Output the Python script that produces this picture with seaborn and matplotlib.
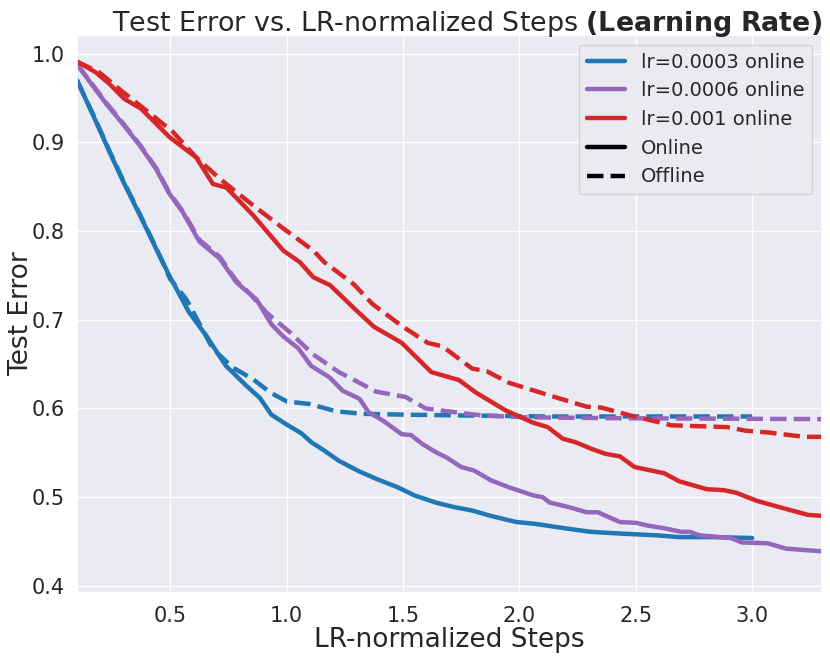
import numpy as np
import pandas as pd
import matplotlib
matplotlib.use("Agg")
import matplotlib.pyplot as plt
from matplotlib.lines import Line2D
import seaborn as sns

# ---- data ----
lr_labels = ["lr=0.0003", "lr=0.0006", "lr=0.001"]
colors = ["#1f77b4", "#9467bd", "#d62728"]

x_0003_on = [0.10, 0.17, 0.24, 0.30, 0.37, 0.44, 0.50, 0.58, 0.655, 0.74, 0.83, 0.885, 0.935, 1.00,
             1.064, 1.106, 1.154, 1.225, 1.313, 1.392, 1.479, 1.55, 1.64, 1.717, 1.797, 1.876, 1.987,
             2.067, 2.194, 2.305, 2.432, 2.59, 2.686, 2.83, 3.0]
y_0003_on = [0.970, 0.930, 0.889, 0.855, 0.818, 0.780, 0.748, 0.709, 0.682, 0.648, 0.625, 0.612, 0.593,
             0.582, 0.572, 0.562, 0.554, 0.541, 0.529, 0.520, 0.511, 0.502, 0.494, 0.489, 0.485, 0.479,
             0.472, 0.470, 0.465, 0.461, 0.459, 0.457, 0.455, 0.455, 0.454]

x_0003_off = [0.10, 0.17, 0.24, 0.30, 0.37, 0.44, 0.50, 0.57, 0.684, 0.77, 0.856, 0.93, 1.00, 1.10,
              1.21, 1.32, 1.51, 1.80, 2.11, 2.5, 3.0]
y_0003_off = [0.970, 0.931, 0.890, 0.856, 0.819, 0.781, 0.746, 0.723, 0.667, 0.646, 0.633, 0.618, 0.608,
              0.605, 0.597, 0.594, 0.593, 0.592, 0.591, 0.591, 0.591]

x_0006_on = [0.10, 0.167, 0.224, 0.296, 0.368, 0.44, 0.497, 0.555, 0.626, 0.713, 0.785, 0.871, 0.935,
             0.987, 1.05, 1.106, 1.185, 1.241, 1.313, 1.352, 1.416, 1.495, 1.535, 1.583, 1.646, 1.686,
             1.75, 1.806, 1.878, 1.957, 2.06, 2.10, 2.13, 2.21, 2.289, 2.337, 2.432, 2.503, 2.551, 2.622,
             2.694, 2.733, 2.773, 2.908, 2.956, 3.067, 3.146, 3.3]
y_0006_on = [0.988, 0.964, 0.944, 0.921, 0.897, 0.870, 0.842, 0.821, 0.788, 0.769, 0.742, 0.723, 0.695,
             0.681, 0.668, 0.648, 0.635, 0.620, 0.611, 0.596, 0.586, 0.571, 0.570, 0.560, 0.550, 0.545,
             0.534, 0.530, 0.519, 0.511, 0.502, 0.500, 0.494, 0.489, 0.483, 0.483, 0.472, 0.471, 0.468,
             0.465, 0.461, 0.461, 0.457, 0.454, 0.449, 0.448, 0.442, 0.439]

x_0006_off = [0.10, 0.167, 0.224, 0.296, 0.368, 0.44, 0.497, 0.555, 0.626, 0.713, 0.784, 0.844, 0.914,
              1.014, 1.114, 1.225, 1.32, 1.384, 1.511, 1.598, 1.717, 1.844, 2.035, 2.432, 3.3]
y_0006_off = [0.988, 0.965, 0.945, 0.922, 0.898, 0.871, 0.843, 0.822, 0.790, 0.771, 0.744, 0.729, 0.708,
              0.686, 0.661, 0.641, 0.628, 0.619, 0.613, 0.600, 0.596, 0.592, 0.590, 0.589, 0.588]

x_001_on = [0.10, 0.18, 0.239, 0.303, 0.375, 0.497, 0.612, 0.684, 0.742, 0.856, 0.986, 1.057, 1.115,
            1.187, 1.302, 1.376, 1.495, 1.622, 1.741, 1.813, 1.94, 2.059, 2.122, 2.186, 2.241, 2.305,
            2.368, 2.432, 2.495, 2.622, 2.686, 2.805, 2.876, 2.932, 3.019, 3.114, 3.241, 3.3]
y_001_on = [0.991, 0.979, 0.966, 0.949, 0.938, 0.906, 0.883, 0.853, 0.849, 0.818, 0.778, 0.765, 0.748,
            0.739, 0.710, 0.692, 0.674, 0.641, 0.632, 0.618, 0.598, 0.584, 0.579, 0.566, 0.562, 0.555,
            0.549, 0.546, 0.534, 0.527, 0.518, 0.509, 0.508, 0.505, 0.496, 0.489, 0.480, 0.479]

x_001_off = [0.10, 0.195, 0.296, 0.397, 0.511, 0.612, 0.713, 0.856, 0.986, 1.115, 1.162, 1.289, 1.368,
             1.495, 1.606, 1.67, 1.797, 1.86, 1.955, 2.114, 2.289, 2.352, 2.479, 2.654, 2.892, 2.971,
             3.067, 3.225, 3.3]
y_001_off = [0.991, 0.979, 0.957, 0.936, 0.912, 0.883, 0.859, 0.829, 0.803, 0.778, 0.765, 0.740, 0.718,
             0.693, 0.674, 0.670, 0.645, 0.642, 0.629, 0.616, 0.602, 0.601, 0.592, 0.581, 0.579, 0.575,
             0.573, 0.568, 0.568]

series = [
    (lr_labels[0], "Online", x_0003_on, y_0003_on),
    (lr_labels[0], "Offline", x_0003_off, y_0003_off),
    (lr_labels[1], "Online", x_0006_on, y_0006_on),
    (lr_labels[1], "Offline", x_0006_off, y_0006_off),
    (lr_labels[2], "Online", x_001_on, y_001_on),
    (lr_labels[2], "Offline", x_001_off, y_001_off),
]
frames = []
for lr, mode, xs, ys in series:
    frames.append(pd.DataFrame({"step": xs, "err": ys, "lr": lr, "mode": mode}))
df = pd.concat(frames, ignore_index=True)

# ---- plotting ----
sns.set_theme(style="darkgrid")
plt.rcParams["font.family"] = ["DejaVu Sans"]

fig, ax = plt.subplots(figsize=(8.3, 6.58), dpi=100)
fig.subplots_adjust(left=77 / 830, right=822 / 830, top=1 - 35 / 658, bottom=1 - 593 / 658)

palette = dict(zip(lr_labels, colors))
dash = (0, (3.7, 1.6))
# draw offline first so online lines sit on top
for mode, ls in [("Offline", dash), ("Online", "-")]:
    for lr in lr_labels:
        sub = df[(df["lr"] == lr) & (df["mode"] == mode)]
        sns.lineplot(data=sub, x="step", y="err", color=palette[lr], lw=3.2,
                     linestyle=ls, ax=ax, legend=False, estimator=None, sort=True)

ax.set_xlim(0.1, 3.3)
ax.set_ylim(0.392, 1.021)
ax.set_xticks([0.5, 1.0, 1.5, 2.0, 2.5, 3.0])
ax.set_yticks([0.4, 0.5, 0.6, 0.7, 0.8, 0.9, 1.0])
ax.tick_params(labelsize=15, pad=3)
ax.set_xlabel("LR-normalized Steps", fontsize=19, labelpad=1)
ax.set_ylabel("Test Error", fontsize=19)
ax.yaxis.set_label_coords(-0.058, 0.5)
ax.set_title(r"Test Error vs. LR-normalized Steps $\bf{(Learning\ Rate)}$", fontsize=19.4,
             pad=3, x=0.523)

handles = [Line2D([0], [0], color=c, lw=3.2) for c in colors]
handles += [Line2D([0], [0], color="black", lw=3.2),
            Line2D([0], [0], color="black", lw=3.2, linestyle=dash)]
labels = [f"{l} online" for l in lr_labels] + ["Online", "Offline"]
leg = ax.legend(handles, labels, loc="upper right", fontsize=14, frameon=True,
                facecolor="#EAEAF2", edgecolor="#cccccc", framealpha=0.8,
                handlelength=2.0, borderaxespad=0.5, labelspacing=0.5)

fig.savefig("out.png", dpi=100)
